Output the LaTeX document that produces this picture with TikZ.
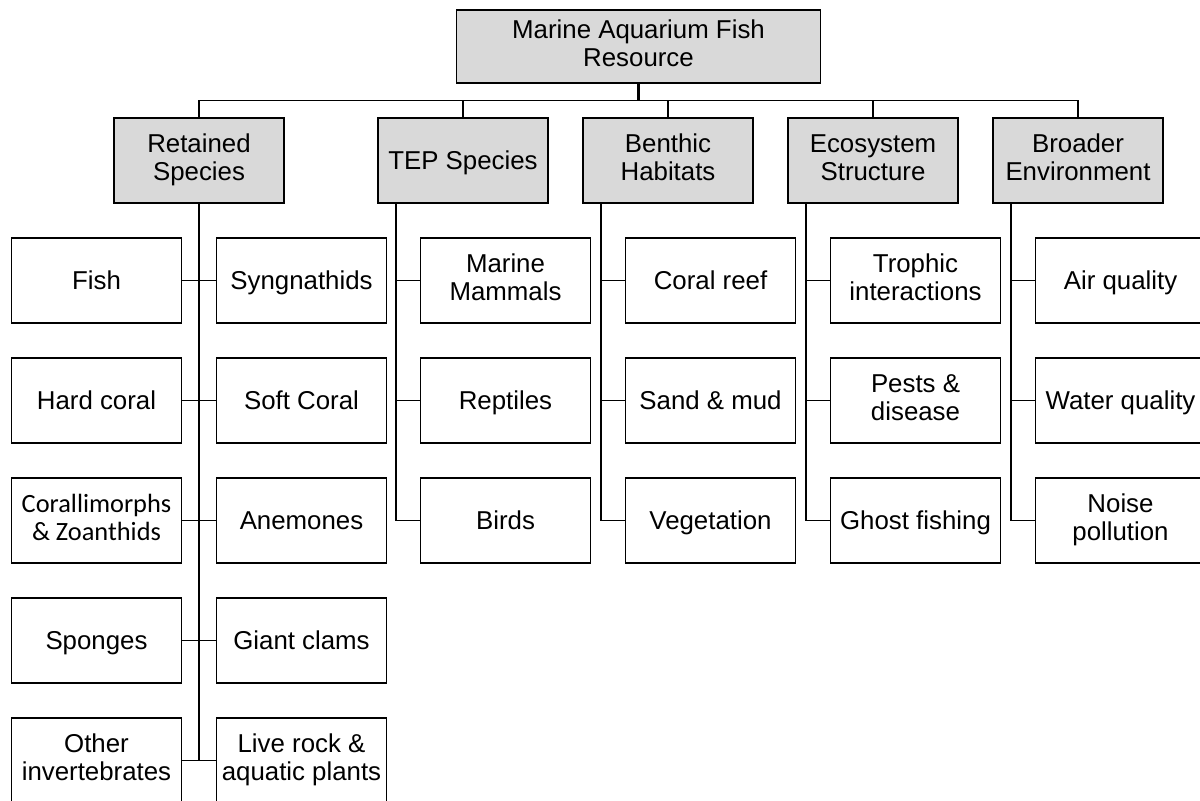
\documentclass[tikz,border=0pt]{standalone}
\usepackage{fontspec}
\setmainfont{Liberation Sans}
\newfontfamily\calibfont{Carlito}
\usetikzlibrary{positioning}
\usetikzlibrary{calc}
\newcommand{\topstrut}{\rule{0pt}{14pt}}
\newcommand{\botstrut}{\rule[-3.5pt]{0pt}{3.5pt}}
\tikzset{
    topbox/.style={
        rectangle,
        draw,
        fill=boxgray,
        align=center,
        outer sep=0pt,
        minimum width=7.28cm,
        minimum height=1.46cm,
        execute at begin node=\topstrut,
        execute at end node=\botstrut
    },
    group/.style={
        rectangle,
        draw,
        fill=boxgray,
        align=center,
        outer sep=0pt,
        inner sep=1pt,
        minimum width=3.4cm,
        minimum height=1.7cm,
        execute at begin node=\topstrut,
        execute at end node=\botstrut
    },
    item/.style={
        rectangle,
        draw,
        align=center,
        outer sep=0pt,
        inner sep=1pt,
        minimum width=3.4cm,
        minimum height=1.7cm,
        execute at begin node=\topstrut,
        execute at end node=\botstrut
    }
}
\definecolor{boxgray}{HTML}{D9D9D9}

\begin{document}
\begin{tikzpicture}[
    node distance=7mm and 7mm,
    font=\fontsize{14.7}{16}\selectfont,
    line width=1.05pt
]
\useasboundingbox (0,0) rectangle (24,-16);

% Second level
\node[group] (retained) at (3.98,-3.21) {Retained\\Species};
\node[group, right=18.8mm of retained] (tep) {TEP Species};
\node[group, right=of tep] (benthic) {Benthic\\Habitats};
\node[group, right=of benthic] (ecosys) {Ecosystem\\Structure};
\node[group, right=of ecosys] (broader) {Broader\\Environment};

% Resource on top
\node[topbox, above=7mm of $(retained.north)!0.5!(broader.north)$] (root)
{Marine Aquarium Fish\\Resource};

% Retained species, two columns
\node[item, below left=7mm and 3.5mm of retained.south] (fish) {Fish};
\node[item, below=of fish] (hard) {Hard coral};
\node[item, below=of hard] (coral)
{\calibfont\fontsize{15}{17}\selectfont Corallimorphs\\
\calibfont\fontsize{15}{17}\selectfont \& Zoanthids};
\node[item, below=of coral] (sponges) {Sponges};
\node[item, below=of sponges] (other) {Other\\invertebrates};

\node[item, below right=7mm and 3.5mm of retained.south] (syng) {Syngnathids};
\node[item, below=of syng] (soft) {Soft Coral};
\node[item, below=of soft] (anem) {Anemones};
\node[item, below=of anem] (clams) {Giant clams};
\node[item, below=of clams] (rock) {Live rock \&\\aquatic plants};

% TEP species
\node[item, below=of tep, xshift=8.5mm] (mammals) {Marine\\Mammals};
\node[item, below=of mammals] (reptiles) {Reptiles};
\node[item, below=of reptiles] (birds) {Birds};

% Benthic habitats
\node[item, below=of benthic, xshift=8.5mm] (reef) {Coral reef};
\node[item, below=of reef] (sand) {Sand \& mud};
\node[item, below=of sand] (veg) {Vegetation};

% Ecosystem structure
\node[item, below=of ecosys, xshift=8.5mm] (trophic) {Trophic\\interactions};
\node[item, below=of trophic] (pests) {Pests \&\\disease};
\node[item, below=of pests] (ghost) {Ghost fishing};

% Broader environment
\node[item, below=of broader, xshift=8.5mm] (air) {Air quality};
\node[item, below=of air] (water) {Water quality};
\node[item, below=of water] (noise) {Noise\\pollution};


% Resource to the five components
\coordinate (bus) at ([yshift=-3.5mm]root.south);
\draw[line width=1.8pt] (root) -- (bus);
\draw (bus -| retained) -- (bus -| broader);
\draw (bus -| retained) -- (retained);
\draw (bus -| tep) -- (tep);
\draw (bus -| benthic) -- (benthic);
\draw (bus -| ecosys) -- (ecosys);
\draw (bus -| broader) -- (broader);

% Retained species trunk
\draw (retained) -- (retained |- other);
\draw (fish) -- (syng);
\draw (hard) -- (soft);
\draw (coral) -- (anem);
\draw (sponges) -- (clams);
\draw (other) -- (rock);

% TEP species trunk
\coordinate (tep-t) at ([xshift=3.6mm]tep.south west);
\draw (tep-t) |- (birds);
\draw (tep-t |- mammals) -- (mammals);
\draw (tep-t |- reptiles) -- (reptiles);

% Benthic habitats trunk
\coordinate (benthic-t) at ([xshift=3.6mm]benthic.south west);
\draw (benthic-t) |- (veg);
\draw (benthic-t |- reef) -- (reef);
\draw (benthic-t |- sand) -- (sand);

% Ecosystem structure trunk
\coordinate (ecosys-t) at ([xshift=3.6mm]ecosys.south west);
\draw (ecosys-t) |- (ghost);
\draw (ecosys-t |- trophic) -- (trophic);
\draw (ecosys-t |- pests) -- (pests);

% Broader environment trunk
\coordinate (broader-t) at ([xshift=3.6mm]broader.south west);
\draw (broader-t) |- (noise);
\draw (broader-t |- air) -- (air);
\draw (broader-t |- water) -- (water);

\end{tikzpicture}
\end{document}
